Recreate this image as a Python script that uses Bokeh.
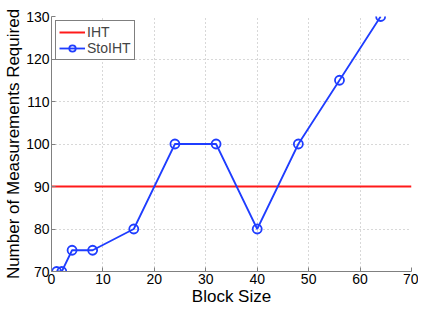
from bokeh.plotting import figure
from bokeh.models import Range1d, Legend, LegendItem, FixedTicker
from bokeh.embed import file_html
from bokeh.resources import INLINE

block_size = [1, 2, 4, 8, 16, 24, 32, 40, 48, 56, 64]
stoiht = [70, 70, 75, 75, 80, 100, 100, 80, 100, 115, 130]
iht_x = [0, 70]
iht = [90, 90]
x_ticks = [0, 10, 20, 30, 40, 50, 60, 70]
y_ticks = [70, 80, 90, 100, 110, 120, 130]

FONT = "Liberation Sans"
RED = "#ff1a1a"
BLUE = "#1f3dff"

p = figure(width=418, height=308, output_backend="svg", toolbar_location=None,
           x_range=Range1d(0, 70), y_range=Range1d(70, 130),
           min_border_left=51, min_border_right=7, min_border_top=16, min_border_bottom=35)
p.outline_line_color = None
p.background_fill_color = "white"
p.border_fill_color = "white"

r1 = p.line(iht_x, iht, line_color=RED, line_width=2)
r2 = p.line(block_size, stoiht, line_color=BLUE, line_width=1.8)
r3 = p.scatter(block_size, stoiht, marker="circle", size=9, fill_color=None,
               line_color=BLUE, line_width=1.8)

for ax in (p.xaxis[0], p.yaxis[0]):
    ax.axis_line_color = "#808080"
    ax.major_tick_line_color = "#808080"
    ax.major_tick_in = 4
    ax.major_tick_out = 0
    ax.minor_tick_line_color = None
    ax.major_label_text_font = FONT
    ax.major_label_text_font_size = "14px"
    ax.major_label_text_color = "black"
    ax.axis_label_text_font = FONT
    ax.axis_label_text_font_size = "17px"
    ax.axis_label_text_font_style = "normal"
    ax.axis_label_text_color = "black"
    ax.major_label_standoff = 2
    ax.axis_label_standoff = 0

p.xaxis.ticker = FixedTicker(ticks=x_ticks)
p.yaxis.ticker = FixedTicker(ticks=y_ticks)
p.xaxis.axis_label = "Block Size"
p.yaxis.axis_label = "Number of Measurements Required"

p.grid.grid_line_color = "#b0b0b0"
p.grid.grid_line_dash = "1 3"
p.grid.grid_line_width = 1

legend = Legend(items=[LegendItem(label="IHT", renderers=[r1]),
                       LegendItem(label="StoIHT", renderers=[r2, r3])],
                location="top_left")
legend.label_text_font = FONT
legend.label_text_font_size = "14px"
legend.border_line_color = "black"
legend.border_line_width = 1
legend.margin = 4
legend.padding = 3
legend.spacing = 0
legend.glyph_width = 26
legend.glyph_height = 16
legend.label_height = 16
legend.label_standoff = 2
p.add_layout(legend)

open("out.html", "w").write(file_html(p, INLINE))
